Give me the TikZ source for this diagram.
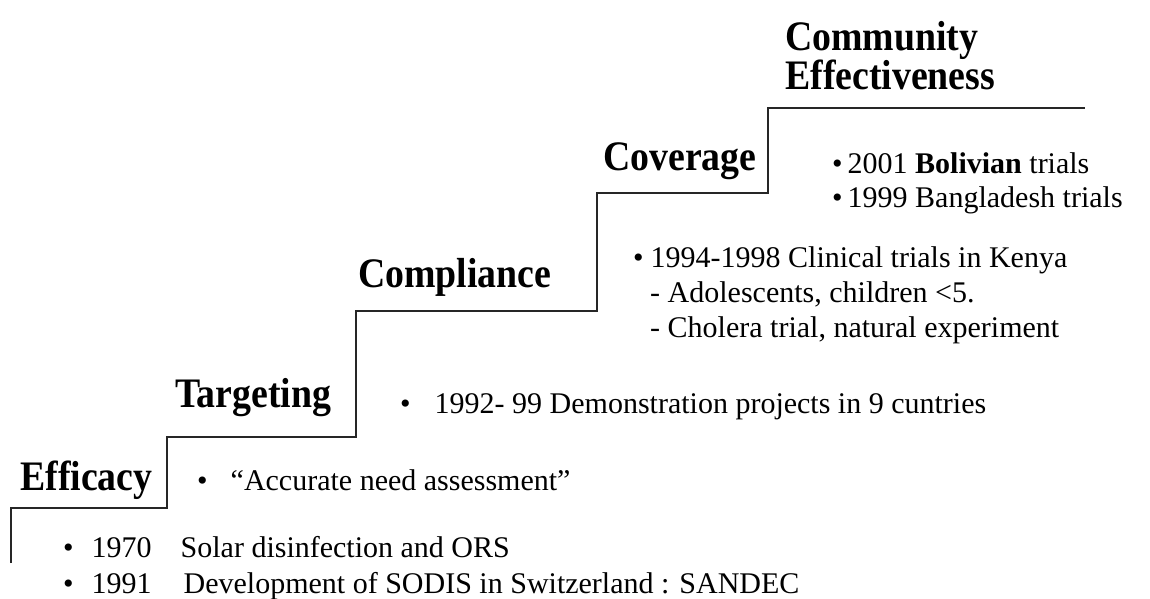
\documentclass[tikz,border=0pt]{standalone}
\usepackage{fontspec}
\setmainfont{Liberation Serif}
\newfontfamily\stepfont{Liberation Serif}[FakeStretch=0.9]
\usepackage{tikz}
\usetikzlibrary{positioning}

\begin{document}
\begin{tikzpicture}[x=1pt,y=-1pt]

    \useasboundingbox (0,0) rectangle (1150,599);

    \tikzset{
    % titles of the steps and the notes written on them
    steptitle/.style={anchor=base west, inner sep=0, align=left,
        font=\stepfont\bfseries\fontsize{42}{35}\selectfont},
    stepnote/.style={anchor=base west, inner sep=0,
        font=\fontsize{30}{36}\selectfont},
    stair/.style={draw=black!85, line width=1.3pt}
    }

    % the staircase
    \draw[stair] (11,563) -- (11,508) -- (167,508) -- (167,437)
        -- (356,437) -- (356,311) -- (597,311) -- (597,193)
        -- (768,193) -- (768,108) -- (1085,108);

    % step 1
    \node at (20,490)[steptitle] (efficacy) {Efficacy};
    \node at (63,557)[stepnote] (solar) {\textbullet\hspace{18pt}1970\hspace{29pt}Solar disinfection and ORS};
    \node at (63,593)[stepnote] (sodis) {\textbullet\hspace{18pt}1991\hspace{32pt}Development of SODIS in Switzerland : SANDEC};

    % step 2
    \node at (175,407)[steptitle] (targeting) {Targeting};
    \node at (197,490)[stepnote] (need) {\textbullet\hspace{23pt}“Accurate need assessment”};

    % step 3
    \node at (358,287)[steptitle] (compliance) {Compliance};
    \node at (400,413)[stepnote] (demo) {\textbullet\hspace{24pt}1992- 99 Demonstration projects in 9 cuntries};

    % step 4
    \node at (603,170)[steptitle] (coverage) {Coverage};
    \node at (633,267)[stepnote] (kenya) {\textbullet\hspace{7pt}1994-1998 Clinical trials in Kenya};
    \node at (650,302)[stepnote] (adol) {- Adolescents, children <5.};
    \node at (650,337)[stepnote] (cholera) {- Cholera trial, natural experiment};

    % step 5
    \node at (785,90)[steptitle] (community) {Community\\Effectiveness};
    \node at (832,173)[stepnote] (bolivia) {\textbullet\hspace{5pt}2001 \textbf{Bolivian} trials};
    \node at (832,207)[stepnote] (bangla) {\textbullet\hspace{5pt}1999 Bangladesh trials};

\end{tikzpicture}
\end{document}
